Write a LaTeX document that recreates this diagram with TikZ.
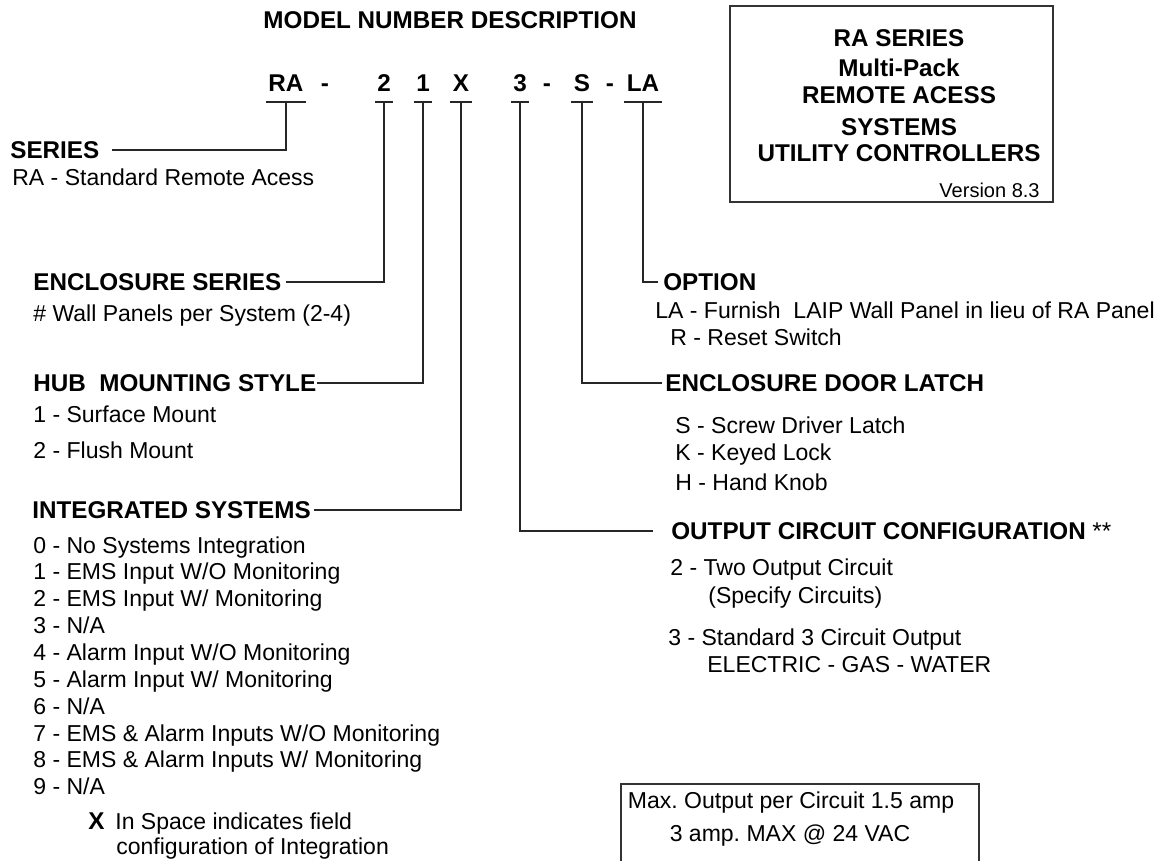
\documentclass[tikz,border=0pt]{standalone}
\usepackage{fontspec}
\setmainfont{Liberation Sans}
\usetikzlibrary{positioning, calc}
\frenchspacing

\begin{document}
\begin{tikzpicture}[
    x=0.02cm, y=-0.02cm,
    % Bold headings (caps), leader lines meet their middle
    head/.style={font=\fontsize{13.8}{16}\selectfont\bfseries, inner sep=0pt, anchor=west},
    % Plain list lines, placed by their baseline
    item/.style={font=\fontsize{13.1}{16}\selectfont, inner sep=0pt, anchor=base west},
    % Characters of the model number (south = tick bar)
    code/.style={font=\fontsize{13.8}{16}\selectfont\bfseries, inner xsep=1.2pt,
                 inner ysep=5.4pt, anchor=base},
    % Leader lines and frames
    lead/.style={line width=0.9pt, black!85},
    frame/.style={draw=black!80, line width=0.9pt}
]
\useasboundingbox (0,0) rectangle (1159,861);

%-------- TITLE + MODEL NUMBER --------
\node[head, anchor=center] (title) at (450,20) {MODEL NUMBER DESCRIPTION};

\foreach \n/\x/\c in {ra/286/RA, two/384/2, one/423/1, ex/461/X,
                      three/520/3, es/582/S, la/643/LA}
    \node[code] (\n) at (\x,92) {\c};
\foreach \x [count=\i] in {325,547,610}
    \node[code] (dash\i) at (\x,92) {-};

%-------- INFO BOX (top right) --------
\node[frame, minimum width=6.46cm, minimum height=3.92cm] (infobox) at (891.5,104) {};
\foreach \y/\t [count=\i] in {38/RA SERIES, 68/Multi-Pack, 95/REMOTE ACESS,
                              127/SYSTEMS, 153/UTILITY CONTROLLERS}
    \node[head, anchor=center] (info\i) at (899,\y) {\t};
\node[item, anchor=base east, font=\fontsize{11.4}{14}\selectfont] (version) at (1040,198) {Version 8.3};

%-------- LEFT HEADINGS --------
\node[head] (series) at (10,150) {SERIES};
\node[item] (ser1) at (12,186) {RA - Standard Remote Acess};

\node[head] (encl) at (33,282) {ENCLOSURE SERIES};
\node[item] (encl1) at (33,322) {\# Wall Panels per System (2-4)};

\node[head] (hub) at (33,383) {HUB\ \ MOUNTING STYLE};
\node[item] (hub1) at (33,422) {1 - Surface Mount};
\node[item] (hub2) at (33,458) {2 - Flush Mount};

\node[head] (integ) at (32,510) {INTEGRATED SYSTEMS};
\foreach \t [count=\i from 0] in {No Systems Integration, EMS Input W/O Monitoring,
        EMS Input W/ Monitoring, N/A, Alarm Input W/O Monitoring,
        Alarm Input W/ Monitoring, N/A, EMS \& Alarm Inputs W/O Monitoring,
        EMS \& Alarm Inputs W/ Monitoring, N/A}
    \node[item] (int\i) at (33,553+26.86*\i) {\i\ - \t};
\node[item, font=\fontsize{13.8}{16}\selectfont\bfseries] (xnote) at (88,829) {X};
\node[item] (xnote1) at (115,829) {In Space indicates field};
\node[item] (xnote2) at (116,854) {configuration of Integration};

%-------- RIGHT HEADINGS --------
\node[head] (opt) at (663,282) {OPTION};
\node[item] (opt1) at (655,318) {LA - Furnish\ \ LAIP Wall Panel in lieu of RA Panel};
\node[item] (opt2) at (670,346) {R - Reset Switch};

\node[head] (latch) at (665,383) {ENCLOSURE DOOR LATCH};
\node[item] (latch1) at (675,433) {S - Screw Driver Latch};
\node[item] (latch2) at (675,460) {K - Keyed Lock};
\node[item] (latch3) at (675,490) {H - Hand Knob};

\node[head] (outp) at (671,531) {OUTPUT CIRCUIT CONFIGURATION {\mdseries **}};
\node[item] (outp1) at (670,575) {2 - Two Output Circuit};
\node[item] (outp2) at (708,603) {(Specify Circuits)};
\node[item] (outp3) at (668,645) {3 - Standard 3 Circuit Output};
\node[item] (outp4) at (707,672) {ELECTRIC - GAS - WATER};

%-------- LIMIT BOX (bottom) --------
\node[frame, minimum width=7.16cm, minimum height=1.8cm, anchor=north west] (limitbox) at (620,783) {};
\node[item, anchor=base] (limit1) at (791,808) {Max. Output per Circuit 1.5 amp};
\node[item, anchor=base] (limit2) at (790,841) {3 amp. MAX @ 24 VAC};

%-------- TICK BARS --------
\foreach \n in {ra,two,one,ex,three,es,la}
    \draw[lead] (\n.south west) -- (\n.south east);

%-------- LEADER LINES --------
\draw[lead, shorten >=0.24cm] (ra.south)    |- (series.east);
\draw[lead, shorten >=0.08cm] (two.south)   |- (encl.east);
\draw[lead]                   (one.south)   |- (hub.east);
\draw[lead, shorten >=0.06cm] (ex.south)    |- (integ.east);
\draw[lead, shorten >=0.36cm] (three.south) |- (outp.west);
\draw[lead, shorten >=0.06cm] (es.south)    |- (latch.west);
\draw[lead, shorten >=0.1cm]  (la.south)    |- (opt.west);

\end{tikzpicture}
\end{document}
